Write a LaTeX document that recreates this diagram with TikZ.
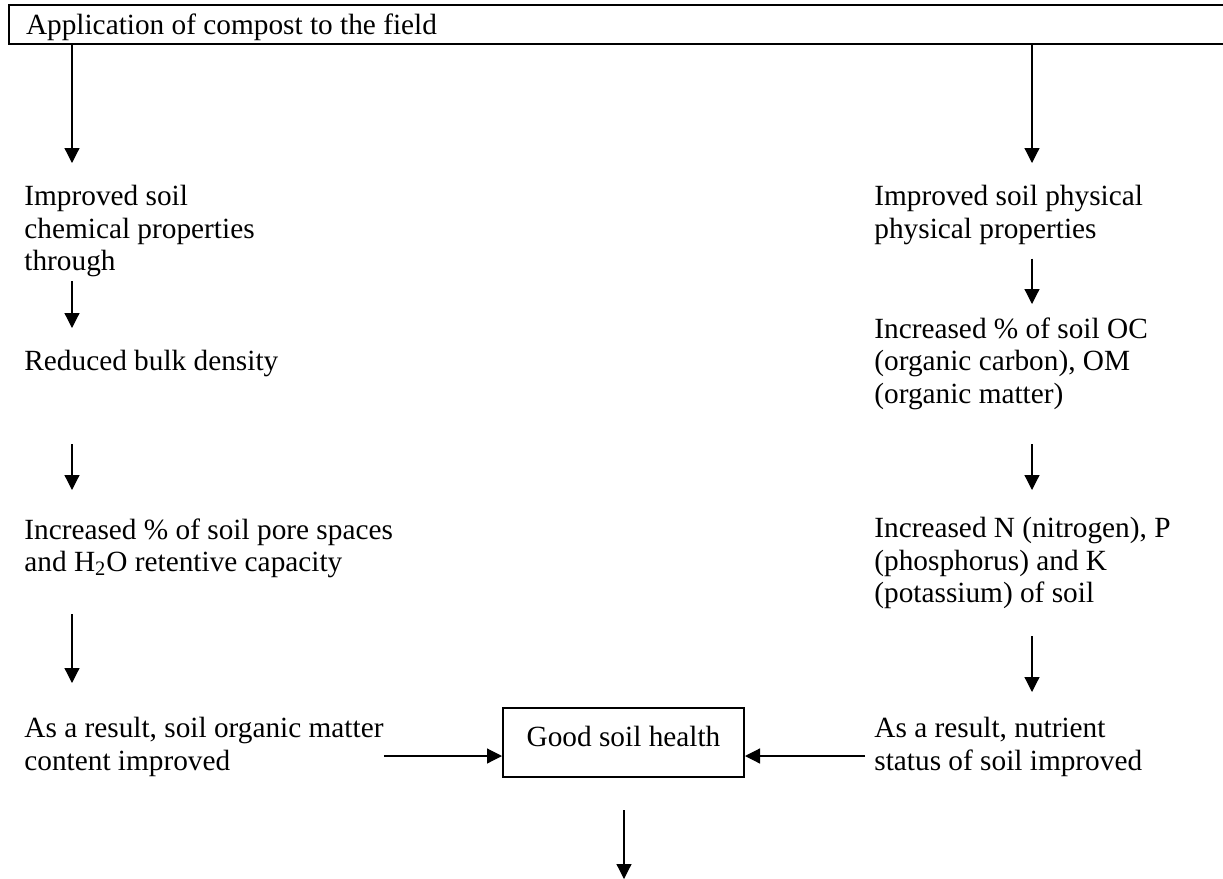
\documentclass[tikz,border=0pt]{standalone}
\usepackage{fontspec}
\setmainfont{Liberation Serif}
\usetikzlibrary{arrows.meta}

\begin{document}
\begin{tikzpicture}[x=0.5pt, y=-0.5pt,
    every node/.style={font=\fontsize{14.65}{16.25}\selectfont},
    txt/.style={anchor=north west, inner sep=0pt, align=left},
    flow/.style={line width=0.6pt, -{Triangle[length=7.5pt,width=7.5pt]}},
    frame/.style={draw, line width=1pt}]
    \useasboundingbox (0,0) rectangle (1223,879);
    % Top box
    \node[frame, anchor=north west, align=flush left, minimum height=19.5pt, inner ysep=0pt, inner xsep=8.5pt, text width=600pt, text height=13pt, text depth=3pt] (app) at (8,4) {Application of compost to the field};
    %
    % Left column
    \node[txt] (chem) at (24,185) {Improved soil\\chemical properties\\through};
    \node[txt] (bulk) at (24,350) {Reduced bulk density};
    \node[txt] (pore) at (24,518) {Increased \% of soil pore spaces\\and H\textsubscript{2}O retentive capacity};
    \node[txt] (omres) at (24,717) {As a result, soil organic matter\\content improved};
    %
    % Right column
    \node[txt] (phys) at (874,185) {Improved soil physical\\physical properties};
    \node[txt] (oc) at (874,317) {Increased \% of soil OC\\(organic carbon), OM\\(organic matter)};
    \node[txt] (npk) at (874,517) {Increased N (nitrogen), P\\(phosphorus) and K\\(potassium) of soil};
    \node[txt] (nutres) at (874,717) {As a result, nutrient\\status of soil improved};
    %
    % Centre box
    \node[frame, minimum width=120.5pt, minimum height=34.5pt, inner sep=0pt, text height=10pt, text depth=6.5pt] (health) at (623.5,742.5) {Good soil health};
    %
    % Arrow lines
    \coordinate (lx) at (72,0);
    \coordinate (rx) at (1032,0);
    \coordinate (midline) at (0,756);
    \coordinate (outcome) at (624,879);
    %
    \draw[flow, shorten >=11pt] (app.south -| lx) -- (chem.north -| lx);
    \draw[flow, shorten <=1.8pt, shorten >=11pt] (chem.south -| lx) -- (bulk.north -| lx);
    \draw[flow, shorten <=33.5pt, shorten >=14pt] (bulk.south -| lx) -- (pore.north -| lx);
    \draw[flow, shorten <=18pt, shorten >=17pt] (pore.south -| lx) -- (omres.north -| lx);
    %
    \draw[flow, shorten >=11pt] (app.south -| rx) -- (phys.north -| rx);
    \draw[flow, shorten <=6.8pt, shorten >=6.5pt] (phys.south -| rx) -- (oc.north -| rx);
    \draw[flow, shorten <=17.2pt, shorten >=13.5pt] (oc.south -| rx) -- (npk.north -| rx);
    \draw[flow, shorten <=13.5pt, shorten >=12.5pt] (npk.south -| rx) -- (nutres.north -| rx);
    %
    \draw[flow] (omres.east |- midline) -- (health.west |- midline);
    \draw[flow, shorten <=4.5pt] (nutres.west |- midline) -- (health.east |- midline);
    \draw[flow, shorten <=16pt] (health.south -| outcome) -- (outcome);
\end{tikzpicture}
\end{document}
